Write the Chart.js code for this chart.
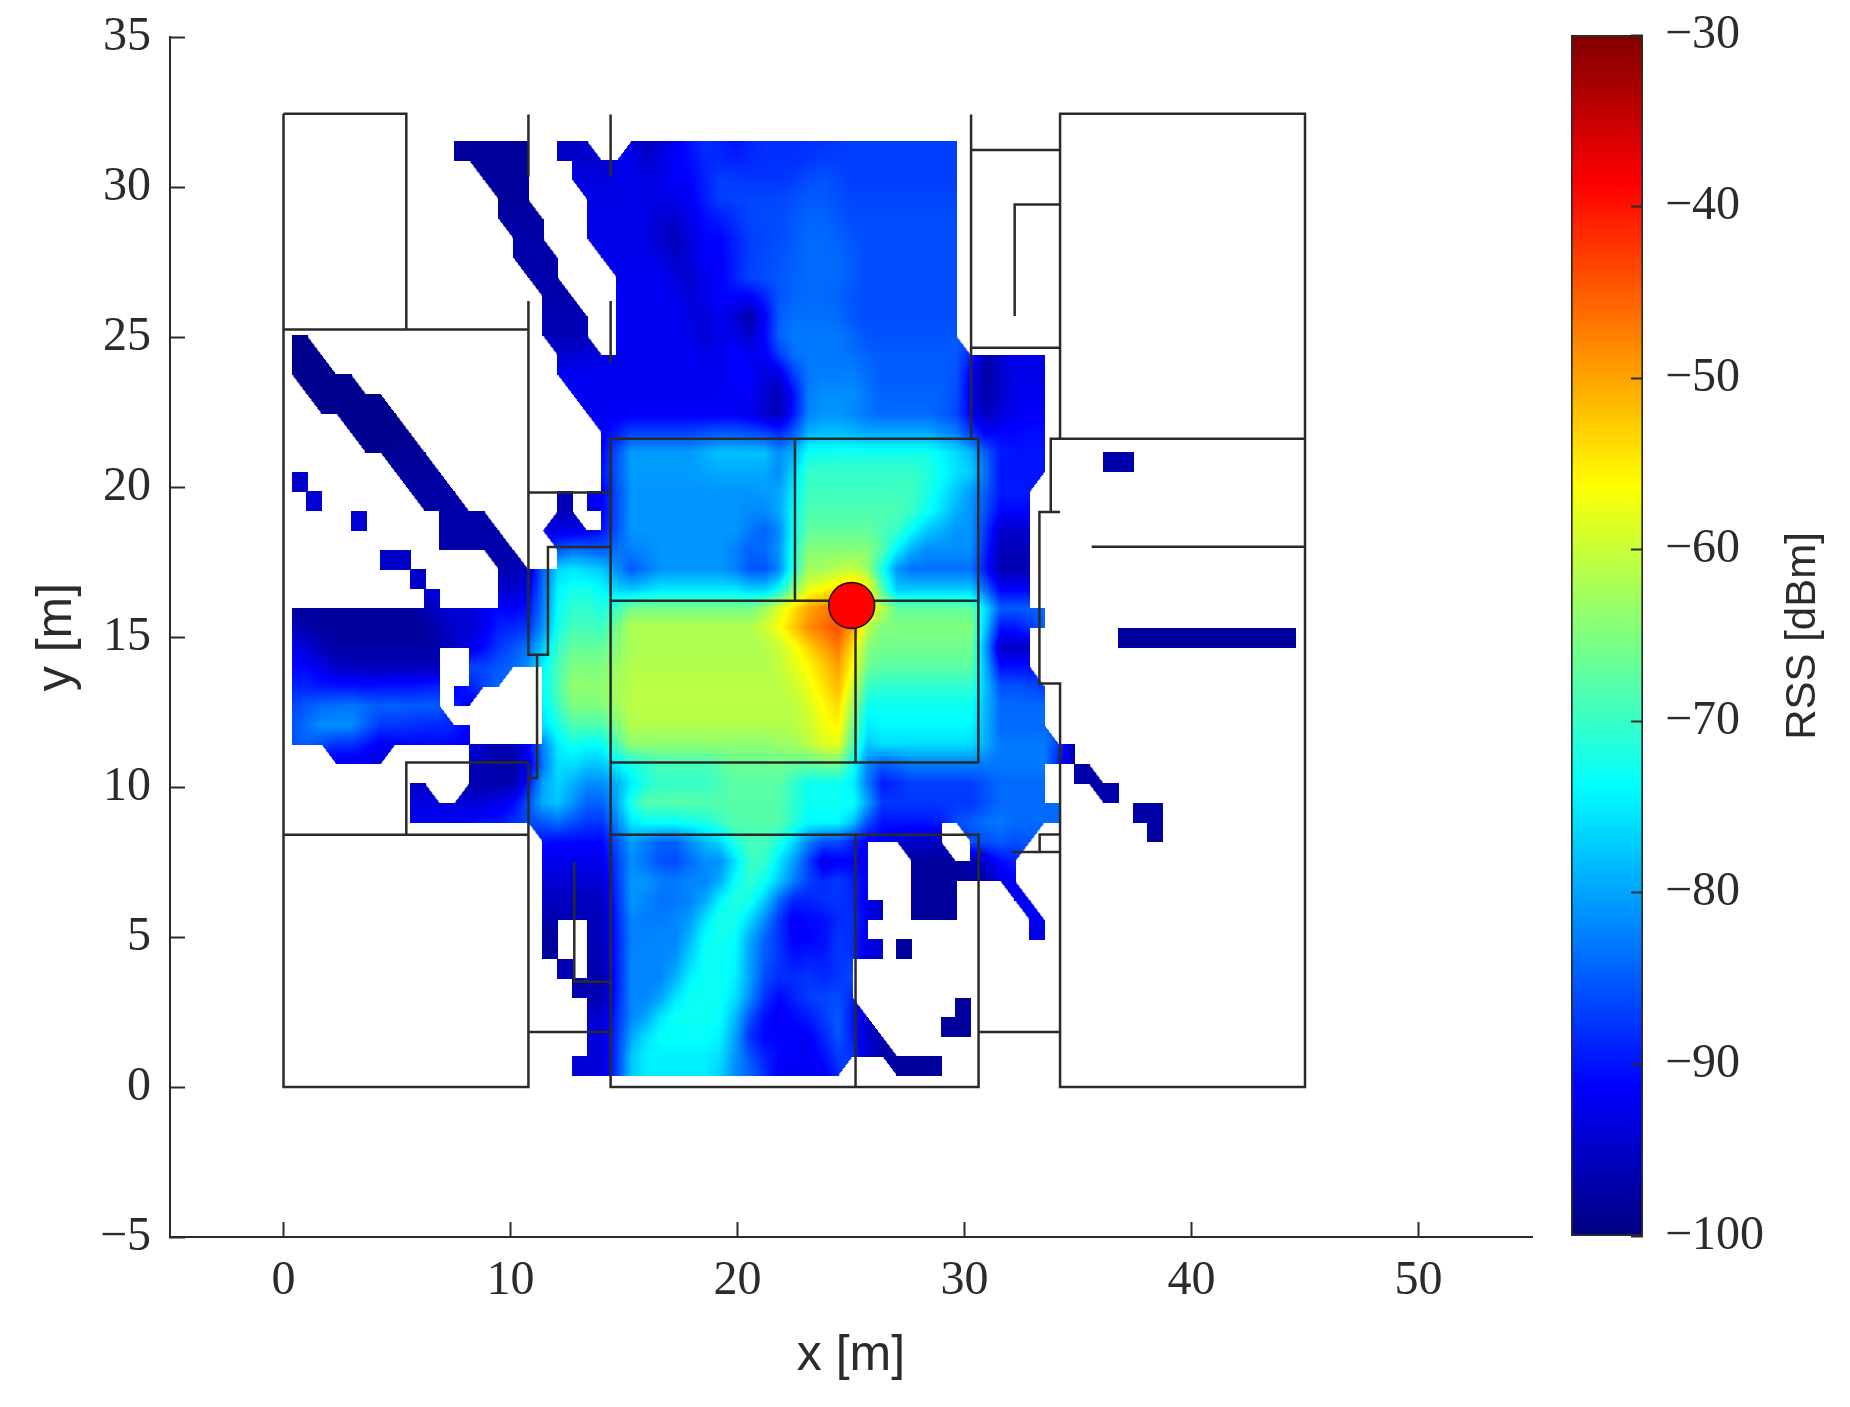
<!DOCTYPE html>
<html>
<head>
<meta charset="utf-8">
<title>RSS map</title>
<script src="https://cdn.jsdelivr.net/npm/chart.js@4"></script>
<style>
  html, body { margin: 0; padding: 0; background: #fff; overflow: hidden; }
  #mapChart { position: absolute; left: 0; top: 0; }
  #barChart { position: absolute; left: 1540px; top: 0; }
</style>
</head>
<body>
<canvas id="mapChart" width="1850" height="1407"></canvas>
<canvas id="barChart" width="310" height="1407"></canvas>
<script>
// ticks
var xTicks = [0, 10, 20, 30, 40, 50];
var yTicks = [-5, 0, 5, 10, 15, 20, 25, 30, 35];
var rssTicks = [-100, -90, -80, -70, -60, -50, -40, -30];

// measurement grid: cells are 0.65 m wide, rows listed top to bottom
var firstColX = 0.705;
var colStep = 0.65;
var rowY = [31.2, 30.56, 29.91, 29.26, 28.61, 27.96, 27.31, 26.66, 26.01, 25.36, 24.72, 24.07,
  23.42, 22.77, 22.12, 21.47, 20.82, 20.17, 19.52, 18.87, 18.22, 17.58, 16.93, 16.28,
  15.63, 14.98, 14.33, 13.68, 13.03, 12.38, 11.73, 11.09, 10.44, 9.79, 9.14, 8.49,
  7.84, 7.19, 6.54, 5.89, 5.24, 4.6, 3.95, 3.3, 2.65, 2.0, 1.35, 0.7];

// RSS in dBm per row, as runs: first column, end column, value
var rssRows = [
  [11,16,-98, 18,21,-95, 22,23,-91, 23,25,-96, 25,27,-92, 27,29,-88, 29,31,-90, 31,37,-88, 37,45,-87],
  [12,16,-98, 19,22,-94, 22,24,-92, 24,25,-94, 25,28,-91, 28,30,-88, 30,35,-88, 35,37,-86, 37,45,-87],
  [13,16,-98, 19,25,-93, 25,27,-92, 27,28,-91, 28,30,-86, 30,34,-87, 34,37,-85, 37,45,-87],
  [14,17,-98, 20,25,-93, 25,26,-95, 26,28,-92, 28,30,-88, 30,34,-86, 34,37,-85, 37,45,-86],
  [14,17,-97, 20,25,-93, 25,27,-96, 27,30,-91, 30,32,-87, 32,34,-86, 34,37,-84, 37,45,-86],
  [15,18,-97, 20,25,-93, 25,27,-96, 27,30,-91, 30,32,-87, 32,34,-86, 34,38,-84, 38,45,-86],
  [15,18,-97, 21,26,-92, 26,27,-96, 27,30,-92, 30,32,-87, 32,34,-85, 34,38,-84, 38,45,-86],
  [16,19,-97, 22,26,-92, 26,28,-95, 28,30,-91, 30,33,-86, 33,34,-85, 34,38,-84, 38,45,-86],
  [17,20,-97, 22,27,-92, 27,28,-94, 28,30,-91, 30,32,-97, 32,33,-87, 33,37,-84, 37,45,-86],
  [17,20,-96, 22,27,-92, 27,29,-95, 29,30,-91, 30,32,-97, 32,33,-86, 33,38,-83, 38,45,-86],
  [0,2,-99, 17,21,-96, 22,28,-92, 28,29,-94, 29,31,-91, 31,32,-95, 32,33,-86, 33,38,-83, 38,46,-85],
  [0,3,-99, 18,28,-92, 28,29,-93, 29,32,-91, 32,33,-96, 33,34,-85, 34,39,-83, 39,46,-85, 46,48,-97, 48,49,-92, 49,51,-93],
  [0,5,-99, 18,30,-92, 30,32,-91, 32,34,-96, 34,35,-84, 35,39,-82, 39,45,-85, 45,46,-87, 46,48,-98, 48,50,-93, 50,51,-92],
  [1,7,-99, 19,32,-92, 32,34,-97, 34,35,-84, 35,39,-81, 39,45,-84, 45,46,-87, 46,48,-97, 48,51,-92],
  [3,8,-99, 20,31,-92, 31,34,-95, 34,35,-83, 35,38,-81, 38,44,-84, 44,46,-87, 46,47,-96, 47,49,-93, 49,51,-91],
  [4,9,-99, 21,22,-92, 22,28,-81, 28,33,-78, 33,34,-86, 34,36,-76, 36,44,-75, 44,46,-78, 46,48,-88, 48,51,-90],
  [6,10,-98, 21,22,-90, 22,28,-80, 28,33,-78, 33,34,-84, 34,44,-70, 44,47,-74, 47,51,-90, 55,57,-97],
  [0,1,-95, 7,11,-98, 21,22,-90, 22,32,-81, 32,34,-82, 34,43,-70, 43,45,-75, 45,47,-80, 47,51,-90],
  [1,2,-94, 8,12,-97, 18,19,-96, 20,22,-92, 22,32,-81, 32,34,-78, 34,43,-69, 43,45,-74, 45,47,-81, 47,50,-89],
  [4,5,-94, 10,14,-97, 17,20,-96, 21,22,-90, 22,31,-81, 31,33,-84, 33,34,-79, 34,42,-68, 42,44,-74, 44,47,-81, 47,50,-93],
  [10,15,-97, 17,22,-90, 22,31,-81, 31,33,-85, 33,34,-79, 34,40,-66, 40,42,-72, 42,47,-81, 47,50,-96],
  [6,8,-95, 13,16,-97, 18,20,-77, 20,22,-80, 22,24,-84, 24,30,-81, 30,32,-86, 32,34,-80, 34,40,-63, 40,41,-72, 41,47,-82, 47,50,-96],
  [8,9,-95, 14,16,-96, 16,17,-91, 17,18,-78, 18,21,-74, 21,22,-76, 22,24,-86, 24,31,-81, 31,33,-88, 33,34,-79, 34,37,-62, 37,39,-57, 39,40,-70, 40,47,-85, 47,50,-97],
  [9,10,-93, 14,16,-93, 16,17,-90, 17,18,-76, 18,21,-71, 21,22,-75, 22,32,-70, 32,34,-64, 34,36,-54, 36,40,-48, 40,47,-70, 47,50,-86],
  [0,10,-98, 10,13,-94, 13,16,-90, 16,17,-88, 17,18,-77, 18,21,-70, 21,22,-72, 22,32,-61, 32,33,-56, 33,34,-51, 34,35,-48, 35,37,-45, 37,38,-42, 38,39,-52, 39,47,-64, 47,51,-84],
  [0,1,-94, 1,10,-98, 10,13,-95, 13,14,-90, 14,16,-87, 16,17,-85, 17,18,-75, 18,22,-68, 22,32,-62, 32,34,-60, 34,35,-52, 35,36,-49, 36,37,-46, 37,38,-44, 38,39,-62, 39,47,-66, 47,50,-96, 56,68,-98],
  [0,2,-92, 2,10,-97, 12,14,-89, 14,16,-84, 16,17,-78, 17,18,-72, 18,22,-66, 22,33,-62, 33,35,-58, 35,36,-54, 36,37,-51, 37,38,-47, 38,39,-64, 39,47,-66, 47,50,-94],
  [0,2,-90, 2,4,-93, 4,10,-95, 12,15,-84, 17,18,-73, 18,22,-64, 22,34,-61, 34,35,-57, 35,36,-55, 36,37,-52, 37,38,-49, 38,39,-66, 39,47,-69, 47,50,-87, 50,51,-90],
  [0,3,-88, 3,6,-86, 6,9,-85, 9,10,-83, 11,13,-92, 17,18,-74, 18,22,-64, 22,34,-61, 34,35,-60, 35,36,-57, 36,37,-54, 37,38,-51, 38,39,-72, 39,47,-72, 47,51,-84],
  [0,1,-85, 1,5,-80, 5,8,-84, 8,11,-86, 17,18,-75, 18,22,-66, 22,35,-61, 35,36,-58, 36,37,-56, 37,38,-54, 38,47,-74, 47,51,-84],
  [0,1,-86, 1,5,-83, 5,12,-91, 17,18,-77, 18,22,-71, 22,34,-62, 34,35,-61, 35,36,-59, 36,38,-56, 38,39,-78, 39,47,-74, 47,52,-84],
  [2,7,-93, 12,14,-95, 14,15,-98, 15,16,-94, 16,17,-90, 17,18,-80, 18,19,-72, 19,22,-76, 22,33,-66, 33,35,-64, 35,38,-60, 38,39,-80, 39,47,-78, 47,52,-82, 52,53,-97],
  [12,14,-97, 14,16,-99, 16,17,-88, 17,19,-76, 19,22,-79, 22,24,-78, 24,29,-72, 29,34,-67, 34,38,-72, 38,39,-78, 39,41,-92, 41,47,-87, 47,51,-84, 53,55,-97],
  [8,10,-95, 11,14,-97, 14,16,-94, 16,18,-78, 18,19,-77, 19,22,-84, 22,23,-76, 23,34,-68, 34,39,-74, 39,47,-87, 47,51,-84, 54,56,-97],
  [8,12,-92, 12,15,-90, 15,16,-86, 16,17,-84, 17,19,-78, 19,22,-85, 22,23,-75, 23,34,-68, 34,39,-72, 39,47,-88, 47,52,-84, 57,59,-97],
  [16,17,-89, 17,22,-90, 22,27,-79, 27,29,-76, 29,34,-68, 34,38,-76, 38,44,-92, 45,47,-82, 47,48,-80, 48,51,-84, 58,59,-98],
  [17,22,-92, 22,24,-82, 24,27,-90, 27,30,-81, 30,33,-70, 33,35,-81, 35,38,-96, 38,39,-92, 41,45,-98, 46,47,-94, 47,50,-88],
  [17,22,-93, 22,25,-81, 25,30,-82, 30,33,-70, 33,35,-80, 35,37,-90, 37,38,-85, 38,39,-92, 42,47,-98, 47,48,-96, 48,49,-91],
  [17,22,-95, 22,25,-81, 25,26,-86, 26,29,-82, 29,32,-71, 32,34,-80, 34,35,-90, 35,38,-87, 38,39,-92, 42,45,-98, 48,50,-92],
  [17,22,-96, 22,24,-81, 24,25,-85, 25,28,-82, 28,31,-72, 31,32,-75, 32,33,-83, 33,35,-93, 35,36,-86, 36,37,-92, 37,38,-85, 38,39,-91, 39,40,-95, 42,45,-98, 49,51,-91],
  [17,18,-98, 20,22,-96, 22,24,-83, 24,27,-82, 27,28,-76, 28,30,-72, 30,31,-74, 31,33,-84, 33,34,-90, 34,37,-92, 37,38,-85, 38,39,-91, 50,51,-93],
  [17,18,-98, 20,22,-96, 22,27,-82, 27,30,-73, 30,31,-75, 31,33,-85, 33,35,-92, 35,37,-89, 37,38,-84, 38,40,-94, 41,42,-98],
  [18,19,-96, 20,22,-97, 22,26,-82, 26,27,-78, 27,30,-73, 30,31,-75, 31,33,-85, 33,36,-88, 36,37,-92, 37,38,-85],
  [19,22,-97, 22,26,-82, 26,30,-73, 30,31,-77, 31,32,-84, 32,34,-90, 34,38,-87],
  [20,22,-96, 22,25,-82, 25,30,-73, 30,31,-80, 31,32,-85, 32,34,-92, 34,36,-87, 36,38,-85, 38,39,-95, 45,46,-98],
  [20,22,-93, 22,24,-82, 24,29,-73, 29,30,-75, 30,31,-85, 31,36,-92, 36,38,-85, 38,40,-95, 44,46,-98],
  [20,22,-94, 22,23,-82, 23,29,-74, 29,30,-76, 30,31,-84, 31,34,-90, 34,36,-92, 36,38,-86, 38,39,-92, 39,41,-97],
  [19,22,-94, 22,23,-80, 23,29,-75, 29,30,-79, 30,32,-84, 32,37,-92, 37,38,-85, 40,44,-98]
];

// building walls in metres
var wallLines = [
  [[0,32.44],[5.41,32.44],[5.41,25.25]],
  [[0,32.44],[0,0],[10.79,0],[10.79,10.82]],
  [[10.79,26.2],[10.79,14.41],[11.65,14.41],[11.65,18],[14.41,18]],
  [[0,25.25],[10.79,25.25]],
  [[10.79,32.42],[10.79,30.34]],
  [[14.41,32.42],[14.41,30.34]],
  [[14.41,26.2],[14.41,24.14]],
  [[14.41,21.61],[30.61,21.61],[30.61,10.82],[14.41,10.82],[14.41,21.61]],
  [[22.53,21.61],[22.53,16.21]],
  [[14.41,16.21],[30.61,16.21]],
  [[25.2,16.21],[25.2,10.82]],
  [[14.41,10.82],[14.41,0],[30.62,0],[30.62,8.41],[14.41,8.41]],
  [[25.2,8.41],[25.2,0]],
  [[30.29,32.42],[30.29,21.61]],
  [[30.29,31.23],[34.21,31.23]],
  [[30.29,24.64],[34.21,24.64]],
  [[32.21,25.7],[32.21,29.42],[34.21,29.42]],
  [[34.21,21.61],[34.21,32.44],[45,32.44],[45,0],[34.21,0],[34.21,13.45],[33.3,13.45],[33.3,19.17],[34.21,19.17]],
  [[33.8,19.17],[33.8,21.61],[45,21.61]],
  [[35.6,18.01],[45,18.01]],
  [[33.31,7.83],[33.31,8.42],[34.21,8.42]],
  [[32.09,7.83],[34.21,7.83]],
  [[30.62,7.83],[30.85,7.83]],
  [[30.62,1.83],[34.21,1.83]],
  [[0,8.41],[10.79,8.41]],
  [[5.41,8.41],[5.41,10.82],[10.79,10.82]],
  [[10.79,19.82],[14.41,19.82]],
  [[11.17,14.41],[11.17,10.3],[10.79,10.3]],
  [[10.79,1.83],[14.41,1.83]],
  [[12.81,7.48],[12.81,3.51],[14.41,3.51]]
];

// access point
var apPoint = [{ x: 25.03, y: 16.05 }];

var tickFont = { family: '"Liberation Serif"', size: 48 };
var titleFont = { family: '"Liberation Sans"', size: 50 };
var inkColor = '#2b2b2b';

// matlab jet, t in 0..1
function jetRgb(t) {
  function ch(v) { return Math.round(255 * Math.max(0, Math.min(1, v))); }
  return [ch(1.5 - Math.abs(4 * t - 3)), ch(1.5 - Math.abs(4 * t - 2)), ch(1.5 - Math.abs(4 * t - 1))];
}
function minusLabel(v) {
  return v < 0 ? '\u2212' + Math.abs(v) : String(v);
}
var rssMin = rssTicks[0];
var rssMax = rssTicks[rssTicks.length - 1];

// decode the runs into cells
var grid = rowY.map(function () { return {}; });
var cells = [];
rssRows.forEach(function (row, k) {
  for (var i = 0; i < row.length; i += 3) {
    for (var c = row[i]; c < row[i + 1]; c++) {
      grid[k][c] = row[i + 2];
      cells.push({ x: firstColX + colStep * c, y: rowY[k], v: row[i + 2], k: k, c: c });
    }
  }
});
function has(k, c) { return !!grid[k] && grid[k][c] !== undefined; }

// corner value of a cell, mean of the cells that touch the corner (shading interp look)
function nodeValue(k, c) {
  var sum = 0, n = 0;
  [[k - 1, c - 1], [k - 1, c], [k, c - 1], [k, c]].forEach(function (p) {
    if (has(p[0], p[1])) { sum += grid[p[0]][p[1]]; n++; }
  });
  return sum / n;
}

// each cell gets its own small canvas as point style: shaded, with stair corners cut
var SPRITE_W = 16, SPRITE_H = 20, CELL_W = 14.76, CELL_H = 19.47;
function cellSprite(cell) {
  var k = cell.k, c = cell.c;
  var tl = nodeValue(k, c), tr = nodeValue(k, c + 1), bl = nodeValue(k + 1, c), br = nodeValue(k + 1, c + 1);
  var top = has(k - 1, c), bottom = has(k + 1, c), left = has(k, c - 1), right = has(k, c + 1);
  var diagA = has(k - 1, c - 1) || has(k + 1, c + 1);
  var diagB = has(k - 1, c + 1) || has(k + 1, c - 1);
  var cutTL = !top && !left && bottom && right && diagB;
  var cutTR = !top && !right && bottom && left && diagA;
  var cutBL = !bottom && !left && top && right && diagA;
  var cutBR = !bottom && !right && top && left && diagB;
  var canvas = document.createElement('canvas');
  canvas.width = SPRITE_W;
  canvas.height = SPRITE_H;
  var g = canvas.getContext('2d');
  var img = g.createImageData(SPRITE_W, SPRITE_H);
  for (var py = 0; py < SPRITE_H; py++) {
    for (var px = 0; px < SPRITE_W; px++) {
      var u = Math.max(0, Math.min(1, (px + 0.5 - (SPRITE_W - CELL_W) / 2) / CELL_W));
      var w = Math.max(0, Math.min(1, (py + 0.5 - (SPRITE_H - CELL_H) / 2) / CELL_H));
      var alpha = 255;
      if ((cutTL && u + w < 1) || (cutTR && (1 - u) + w < 1) || (cutBL && u + (1 - w) < 1) || (cutBR && (1 - u) + (1 - w) < 1)) {
        alpha = 0;
      }
      var val = (tl * (1 - u) + tr * u) * (1 - w) + (bl * (1 - u) + br * u) * w;
      var rgb = jetRgb((val - rssMin) / (rssMax - rssMin));
      var o = (py * SPRITE_W + px) * 4;
      img.data[o] = rgb[0];
      img.data[o + 1] = rgb[1];
      img.data[o + 2] = rgb[2];
      img.data[o + 3] = alpha;
    }
  }
  g.putImageData(img, 0, 0);
  return canvas;
}

var wallData = [];
wallLines.forEach(function (line) {
  line.forEach(function (p) { wallData.push({ x: p[0], y: p[1] }); });
  wallData.push({ x: null, y: null });
});

var mapChart = new Chart(document.getElementById('mapChart').getContext('2d'), {
  type: 'scatter',
  data: {
    datasets: [
      {
        label: 'AP',
        data: apPoint,
        order: 0,
        pointRadius: 23,
        pointBackgroundColor: '#ff0000',
        pointBorderColor: '#111',
        pointBorderWidth: 1.5
      },
      {
        label: 'Walls',
        data: wallData,
        order: 1,
        showLine: true,
        spanGaps: false,
        pointRadius: 0,
        borderColor: '#2a2a2a',
        borderWidth: 2.5
      },
      {
        label: 'RSS',
        data: cells,
        order: 2,
        pointRadius: 8,
        pointStyle: cells.map(cellSprite)
      }
    ]
  },
  options: {
    responsive: false,
    animation: false,
    devicePixelRatio: 1,
    events: [],
    layout: { padding: { top: 37, right: 318, left: 0, bottom: 0 } },
    plugins: {
      legend: { display: false },
      tooltip: { enabled: false }
    },
    scales: {
      x: {
        type: 'linear',
        min: -5,
        max: 55,
        afterBuildTicks: function (s) { s.ticks = xTicks.map(function (v) { return { value: v }; }); },
        afterFit: function (s) { s.height = 170; s.paddingLeft = 0; s.paddingRight = 0; },
        border: { display: true, color: inkColor, width: 2 },
        grid: { drawOnChartArea: false, drawTicks: true, tickLength: -15, tickColor: inkColor, tickWidth: 2 },
        ticks: { color: inkColor, font: tickFont, padding: 31, maxRotation: 0, autoSkip: false },
        title: { display: true, text: 'x [m]', color: inkColor, font: titleFont, padding: { top: 0, bottom: 21 } }
      },
      y: {
        type: 'linear',
        min: -5,
        max: 35,
        afterBuildTicks: function (s) { s.ticks = yTicks.map(function (v) { return { value: v }; }); },
        afterFit: function (s) { s.width = 170; s.paddingTop = 0; s.paddingBottom = 0; },
        border: { display: true, color: inkColor, width: 2 },
        grid: { drawOnChartArea: false, drawTicks: true, tickLength: -15, tickColor: inkColor, tickWidth: 2 },
        ticks: { color: inkColor, font: tickFont, padding: 34, autoSkip: false, callback: minusLabel },
        title: { display: true, text: 'y [m]', color: inkColor, font: titleFont, padding: { top: 27, bottom: 0 } }
      }
    }
  }
});

// colour bar
var rssTitle = {
  id: 'rssTitle',
  afterDraw: function (chart) {
    var c = chart.ctx;
    c.save();
    c.translate(263, 636);
    c.rotate(-Math.PI / 2);
    c.font = '42px "Liberation Sans"';
    c.fillStyle = inkColor;
    c.textAlign = 'center';
    c.textBaseline = 'middle';
    c.fillText('RSS [dBm]', 0, 0);
    c.restore();
  }
};

var barChart = new Chart(document.getElementById('barChart').getContext('2d'), {
  type: 'bar',
  data: {
    labels: ['RSS'],
    datasets: [{
      data: [[rssMin, rssMax]],
      barPercentage: 1,
      categoryPercentage: 1,
      borderWidth: 2,
      borderColor: inkColor,
      borderSkipped: false,
      backgroundColor: function (ctx) {
        var area = ctx.chart.chartArea;
        if (!area) { return '#00f'; }
        var grad = ctx.chart.ctx.createLinearGradient(0, area.bottom, 0, area.top);
        for (var i = 0; i <= 64; i++) {
          grad.addColorStop(i / 64, 'rgb(' + jetRgb(i / 64).join(',') + ')');
        }
        return grad;
      }
    }]
  },
  options: {
    responsive: false,
    animation: false,
    devicePixelRatio: 1,
    events: [],
    layout: { padding: { top: 35, right: 0, left: 31, bottom: 171 } },
    plugins: {
      legend: { display: false },
      tooltip: { enabled: false }
    },
    scales: {
      x: { display: false },
      y: {
        position: 'right',
        min: rssMin,
        max: rssMax,
        afterBuildTicks: function (s) { s.ticks = rssTicks.map(function (v) { return { value: v }; }); },
        afterFit: function (s) { s.width = 207; s.paddingTop = 0; s.paddingBottom = 0; },
        border: { display: false },
        grid: { drawOnChartArea: false, drawTicks: true, tickLength: -12, tickColor: inkColor, tickWidth: 2, z: 1 },
        ticks: { color: inkColor, font: tickFont, padding: 34, autoSkip: false, callback: minusLabel }
      }
    }
  },
  plugins: [rssTitle]
});
</script>
</body>
</html>
